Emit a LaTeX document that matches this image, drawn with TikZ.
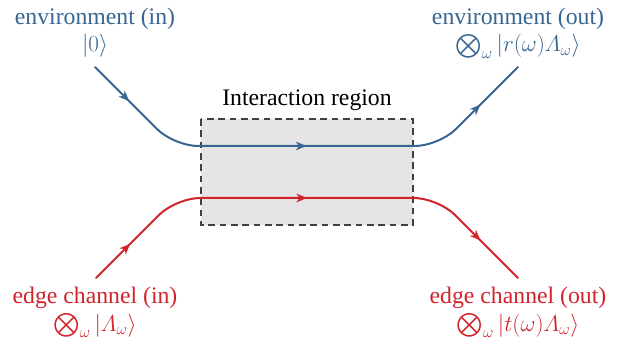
\documentclass[tikz,border=0pt]{standalone}
\usepackage{amsmath}
\usepackage{amssymb}
\usepackage{fontspec}
\setmainfont{Liberation Serif}
\usepackage{tikz}
\usetikzlibrary{arrows.meta,decorations.markings}
\definecolor{envblue}{RGB}{56,102,146}
\definecolor{edgered}{RGB}{208,36,42}
\definecolor{boxgray}{RGB}{229,229,229}

\begin{document}
\begin{tikzpicture}[x=0.75pt,y=0.75pt,yscale=-1,xscale=1,
  chan/.style={line width=1.5pt,line cap=round,rounded corners=18pt},
  arrowmarks/.style={postaction={decorate},decoration={markings,
    mark=at position 0.1 with {\arrow{Stealth[length=8pt,width=6.5pt,inset=2.5pt]}},
    mark=at position 0.5 with {\arrow{Stealth[length=8pt,width=6.5pt,inset=2.5pt]}},
    mark=at position 0.89 with {\arrow{Stealth[length=8pt,width=6.5pt,inset=2.5pt]}}}},
  lbl/.style={font=\fontsize{17.8}{20.3}\selectfont,align=center,anchor=base,inner sep=0pt}]
\useasboundingbox (0,0) rectangle (620,345);

%Shape: Rectangle [interaction region]
\draw [fill=boxgray, draw=black!75, line width=0.8pt, dash pattern=on 5pt off 3.5pt] (201,119) rectangle (413,225);
\node[lbl] (region) at (307,106) {Interaction region};

%Coordinates of the channels
\coordinate (envIn) at (95,67);
\coordinate (envInC) at (174,146);
\coordinate (envOutC) at (439,146);
\coordinate (envOut) at (518,67);
\coordinate (edgeIn) at (96,278);
\coordinate (edgeInC) at (176,198);
\coordinate (edgeOutC) at (438,198);
\coordinate (edgeOut) at (518,278);

%Channels
\draw [chan, envblue, arrowmarks] (envIn) -- (envInC) -- (envOutC) -- (envOut);
\draw [chan, edgered, arrowmarks] (edgeIn) -- (edgeInC) -- (edgeOutC) -- (edgeOut);

% Text Node (anchor = baseline of the last line)
\node[lbl, envblue] (envInTxt) at (95,52) {environment (in)\\$|0\rangle$};
\node[lbl, envblue] (envOutTxt) at (518,52) {environment (out)\\$\bigotimes_\omega |r(\omega)\varLambda_\omega\rangle$};
% Text Node
\node[lbl, edgered] (edgeInTxt) at (95,331) {edge channel (in)\\$\bigotimes_\omega |\varLambda_\omega\rangle$};
\node[lbl, edgered] (edgeOutTxt) at (518,331) {edge channel (out)\\$\bigotimes_\omega |t(\omega)\varLambda_\omega\rangle$};

\end{tikzpicture}
\end{document}
